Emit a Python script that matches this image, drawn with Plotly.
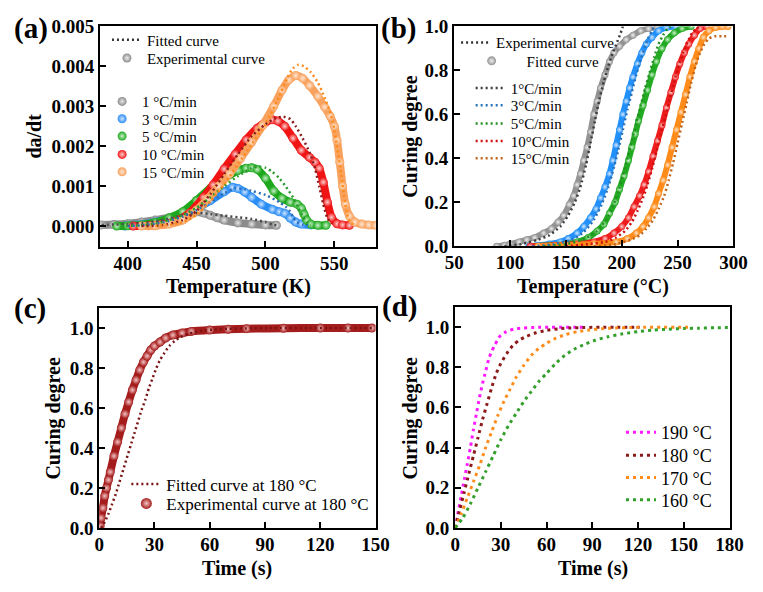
import plotly.graph_objects as go

W, H = 763, 592
FONT = "Liberation Serif"

# ---------------- Panel (a): da/dt vs Temperature (K) ----------------
a_rates = ["1 °C/min", "3 °C/min", "5 °C/min", "10 °C/min", "15 °C/min"]

a_exp_T1 = [381, 390, 400, 410, 420, 430, 440, 445, 450, 455, 460, 465, 470, 480, 490, 500, 508]
a_exp_v1 = [0.00003, 0.00004, 0.00006, 0.0001, 0.00015, 0.00021, 0.00029, 0.00033, 0.000355, 0.00033, 0.00027, 0.00021, 0.00015, 0.00008, 0.00005, 0.00003, 0.00002]
a_fit_T1 = [381, 390, 400, 410, 420, 430, 440, 450, 460, 470, 480, 490, 500, 505, 508]
a_fit_v1 = [0.00003, 0.00004, 0.00005, 0.00008, 0.00012, 0.00019, 0.00027, 0.00033, 0.0003, 0.00026, 0.00022, 0.00018, 0.0001, 0.00004, 0.00002]

a_exp_T3 = [398, 405, 410, 420, 430, 440, 450, 460, 470, 476, 480, 485, 490, 497, 505, 510, 514, 518, 522, 526, 533]
a_exp_v3 = [0.0, 0.00002, 0.00004, 0.0001, 0.00018, 0.00028, 0.00044, 0.00064, 0.00086, 0.00097, 0.00094, 0.00085, 0.00072, 0.00055, 0.00042, 0.00036, 0.00032, 0.0002, 0.0001, 0.00005, 0.00003]
a_fit_T3 = [400, 410, 420, 430, 440, 450, 460, 470, 478, 485, 490, 500, 510, 515, 518, 520, 523, 527, 531]
a_fit_v3 = [0.0, 0.00002, 0.00006, 0.00013, 0.00024, 0.0004, 0.0006, 0.00082, 0.00095, 0.00092, 0.00088, 0.00078, 0.0006, 0.00048, 0.00036, 0.00022, 0.0001, 0.00004, 0.00002]

a_exp_T5 = [392, 400, 410, 420, 430, 440, 450, 460, 470, 480, 486, 490, 494, 500, 506, 512, 518, 523, 526, 528, 530, 533, 538, 544]
a_exp_v5 = [0.0, 0.00001, 0.00003, 0.00009, 0.0002, 0.00036, 0.00064, 0.00095, 0.00119, 0.00139, 0.00145, 0.00146, 0.00142, 0.0012, 0.00088, 0.0007, 0.0006, 0.00055, 0.00045, 0.0003, 0.00015, 0.00005, 0.00002, 0.00002]
a_fit_T5 = [395, 410, 420, 430, 440, 450, 460, 470, 480, 490, 495, 500, 505, 510, 515, 520, 524, 527, 530, 533]
a_fit_v5 = [0.0, 0.00002, 0.00006, 0.00015, 0.00028, 0.00046, 0.00072, 0.001, 0.00125, 0.00145, 0.00149, 0.00146, 0.00136, 0.0012, 0.00098, 0.00072, 0.00045, 0.00025, 0.0001, 0.00003]

a_exp_T10 = [404, 415, 425, 435, 445, 455, 462, 470, 478, 486, 494, 500, 505, 509, 514, 520, 526, 532, 536, 539, 542, 545, 548, 552, 556, 561]
a_exp_v10 = [0.0, 0.00001, 0.00004, 0.00012, 0.00033, 0.00072, 0.00103, 0.00143, 0.0018, 0.00216, 0.00245, 0.0026, 0.00266, 0.00263, 0.0025, 0.0022, 0.0019, 0.00172, 0.0016, 0.00145, 0.0011, 0.0006, 0.00022, 0.00006, 0.00003, 0.00002]
a_fit_T10 = [410, 425, 440, 450, 460, 470, 480, 490, 500, 507, 513, 518, 522, 527, 532, 536, 539, 542, 545, 548]
a_fit_v10 = [0.0, 0.00002, 0.00015, 0.00038, 0.0008, 0.0013, 0.0018, 0.00225, 0.00255, 0.0027, 0.00274, 0.00268, 0.0025, 0.0022, 0.00185, 0.00145, 0.001, 0.00055, 0.0002, 0.00005]

a_exp_T15 = [410, 420, 430, 440, 450, 458, 466, 474, 482, 490, 498, 506, 512, 517, 522, 527, 532, 538, 543, 547, 550, 552, 554, 556, 558, 561, 565, 570, 575, 580]
a_exp_v15 = [0.0, 0.00001, 0.00005, 0.00015, 0.0004, 0.00068, 0.001, 0.00131, 0.0017, 0.0021, 0.00252, 0.003, 0.0034, 0.00366, 0.00377, 0.0037, 0.00352, 0.00325, 0.00298, 0.00275, 0.0025, 0.00215, 0.0016, 0.001, 0.00055, 0.00025, 0.0001, 0.00005, 0.00003, 0.00002]
a_fit_T15 = [420, 430, 440, 450, 460, 470, 480, 490, 500, 510, 516, 520, 524, 528, 533, 538, 542, 546, 549, 552, 555, 557, 559, 561, 564]
a_fit_v15 = [0.0, 0.00003, 0.0001, 0.00028, 0.00062, 0.00105, 0.00155, 0.00205, 0.00255, 0.00325, 0.00372, 0.00395, 0.00404, 0.004, 0.00385, 0.0036, 0.0033, 0.00295, 0.0026, 0.002, 0.0013, 0.0008, 0.00035, 0.00012, 0.00003]

a_exp_T = [a_exp_T1, a_exp_T3, a_exp_T5, a_exp_T10, a_exp_T15]
a_exp_v = [a_exp_v1, a_exp_v3, a_exp_v5, a_exp_v10, a_exp_v15]
a_fit_T = [a_fit_T1, a_fit_T3, a_fit_T5, a_fit_T10, a_fit_T15]
a_fit_v = [a_fit_v1, a_fit_v3, a_fit_v5, a_fit_v10, a_fit_v15]
a_exp_colors = ["#8c8c8c", "#2a8cf5", "#1ea81e", "#f01414", "#f8a25e"]
a_exp_light = ["#e6e6e6", "#cfe6ff", "#c8f0c8", "#ffd0d0", "#ffe6d2"]
a_fit_colors = ["#4a4a4a", "#2a6fb8", "#2c9a2c", "#8e1b1b", "#ff8a1a"]

# ---------------- Panel (b): curing degree vs Temperature (°C) ----------------
b_rates = ["1°C/min", "3°C/min", "5°C/min", "10°C/min", "15°C/min"]

b_exp_T1 = [88, 95, 100, 108, 115, 122, 130, 137, 143, 148, 153, 157, 160, 163, 166, 169, 172, 175, 178, 181, 185, 189, 193, 198, 204, 210, 217, 224, 232, 238]
b_exp_v1 = [0.0, 0.005, 0.01, 0.02, 0.03, 0.04, 0.06, 0.08, 0.11, 0.14, 0.19, 0.23, 0.28, 0.33, 0.39, 0.45, 0.52, 0.6, 0.66, 0.72, 0.78, 0.84, 0.88, 0.91, 0.94, 0.96, 0.98, 0.99, 0.997, 1.0]
b_fit_T1 = [95, 110, 125, 135, 145, 152, 158, 163, 168, 172, 176, 180, 184, 188, 192, 196, 199, 201]
b_fit_v1 = [0.0, 0.01, 0.03, 0.05, 0.09, 0.14, 0.2, 0.27, 0.37, 0.47, 0.57, 0.67, 0.75, 0.82, 0.88, 0.93, 0.97, 1.0]

b_exp_T3 = [117, 125, 135, 145, 152, 160, 166, 172, 177, 181, 185, 189, 192, 195, 198, 201, 204, 207, 210, 214, 218, 222, 227, 233, 240, 248]
b_exp_v3 = [0.0, 0.005, 0.01, 0.02, 0.035, 0.06, 0.09, 0.13, 0.17, 0.22, 0.27, 0.33, 0.39, 0.46, 0.53, 0.6, 0.66, 0.72, 0.77, 0.83, 0.88, 0.92, 0.95, 0.98, 0.995, 1.0]
b_fit_T3 = [120, 140, 155, 165, 175, 182, 188, 193, 197, 201, 205, 209, 213, 217, 221, 224, 227, 229]
b_fit_v3 = [0.0, 0.01, 0.03, 0.06, 0.12, 0.19, 0.27, 0.36, 0.44, 0.53, 0.62, 0.7, 0.78, 0.85, 0.91, 0.95, 0.98, 1.0]

b_exp_T5 = [122, 135, 150, 160, 170, 178, 184, 189, 194, 198, 202, 206, 209, 212, 215, 219, 223, 227, 231, 236, 241, 247, 254, 262]
b_exp_v5 = [0.0, 0.005, 0.01, 0.02, 0.04, 0.07, 0.1, 0.15, 0.2, 0.26, 0.32, 0.39, 0.45, 0.51, 0.57, 0.64, 0.71, 0.78, 0.84, 0.9, 0.94, 0.97, 0.99, 1.0]
b_fit_T5 = [130, 150, 165, 178, 186, 192, 197, 201, 205, 209, 213, 217, 221, 225, 229, 233, 237, 241, 244]
b_fit_v5 = [0.0, 0.01, 0.03, 0.07, 0.12, 0.18, 0.25, 0.32, 0.4, 0.48, 0.56, 0.64, 0.72, 0.79, 0.86, 0.92, 0.96, 0.99, 1.0]

b_exp_T10 = [118, 140, 160, 175, 185, 193, 200, 206, 211, 216, 220, 224, 228, 232, 236, 240, 244, 248, 252, 256, 260, 265, 270, 276]
b_exp_v10 = [0.0, 0.005, 0.01, 0.02, 0.035, 0.06, 0.09, 0.13, 0.18, 0.23, 0.28, 0.34, 0.41, 0.48, 0.55, 0.63, 0.7, 0.77, 0.83, 0.88, 0.92, 0.96, 0.99, 1.0]
b_fit_T10 = [150, 170, 185, 195, 203, 209, 214, 219, 223, 227, 231, 235, 239, 243, 247, 251, 255, 259, 263, 267, 270]
b_fit_v10 = [0.0, 0.01, 0.02, 0.04, 0.07, 0.11, 0.16, 0.22, 0.28, 0.35, 0.43, 0.51, 0.59, 0.67, 0.75, 0.82, 0.88, 0.93, 0.97, 0.99, 1.0]

b_exp_T15 = [125, 150, 175, 195, 205, 213, 219, 224, 229, 233, 237, 241, 245, 249, 253, 257, 261, 265, 269, 273, 278, 284, 290, 295]
b_exp_v15 = [0.0, 0.005, 0.01, 0.02, 0.035, 0.06, 0.09, 0.13, 0.18, 0.24, 0.3, 0.37, 0.45, 0.53, 0.61, 0.69, 0.77, 0.84, 0.9, 0.95, 0.98, 0.995, 1.0, 1.0]
b_fit_T15 = [175, 195, 208, 216, 222, 228, 233, 238, 242, 246, 250, 254, 258, 262, 266, 270, 274, 278, 283, 290, 296]
b_fit_v15 = [0.0, 0.01, 0.03, 0.05, 0.08, 0.12, 0.17, 0.23, 0.3, 0.38, 0.47, 0.56, 0.65, 0.74, 0.82, 0.88, 0.92, 0.945, 0.955, 0.955, 0.955]

b_exp_T = [b_exp_T1, b_exp_T3, b_exp_T5, b_exp_T10, b_exp_T15]
b_exp_v = [b_exp_v1, b_exp_v3, b_exp_v5, b_exp_v10, b_exp_v15]
b_fit_T = [b_fit_T1, b_fit_T3, b_fit_T5, b_fit_T10, b_fit_T15]
b_fit_v = [b_fit_v1, b_fit_v3, b_fit_v5, b_fit_v10, b_fit_v15]
b_exp_colors = ["#939393", "#2290fa", "#22aa22", "#ee1c1c", "#ff8c1a"]
b_exp_light = ["#eeeeee", "#d2e8ff", "#cdf2cd", "#ffd2d2", "#ffe2c6"]
b_fit_colors = ["#3c3c3c", "#2a72b8", "#239023", "#cc1010", "#c0641a"]

# ---------------- Panel (c): isothermal 180 °C ----------------
c_exp_t = [0.5, 1, 2, 3, 4, 5, 6, 8, 10, 12, 14, 16, 18, 20, 22, 24, 26, 28, 30, 33, 36, 40, 45, 50, 60, 70, 80, 100, 120, 135, 148]
c_exp_v = [0.01, 0.05, 0.1, 0.16, 0.2, 0.24, 0.28, 0.36, 0.43, 0.5, 0.57, 0.63, 0.69, 0.74, 0.79, 0.83, 0.86, 0.89, 0.91, 0.93, 0.95, 0.965, 0.975, 0.983, 0.99, 0.994, 0.997, 0.999, 1.0, 1.0, 1.0]
c_fit_t = [1, 3, 5, 7, 9, 11, 13, 15, 17, 19, 21, 23, 25, 27, 29, 31, 33, 35, 38, 41, 44, 48, 52, 57, 63, 70, 80, 95, 110, 130, 148]
c_fit_v = [0.0, 0.03, 0.07, 0.12, 0.17, 0.23, 0.29, 0.35, 0.41, 0.47, 0.53, 0.59, 0.64, 0.7, 0.75, 0.8, 0.84, 0.87, 0.91, 0.935, 0.955, 0.97, 0.98, 0.988, 0.993, 0.996, 0.998, 1.0, 1.0, 1.0, 1.0]

# ---------------- Panel (d): predicted isothermal curves ----------------
d_labels = ["190 °C", "180 °C", "170 °C", "160 °C"]
d_t190 = [0, 2, 4, 6, 8, 10, 12, 14, 16, 18, 20, 22, 24, 26, 28, 30, 33, 36, 40, 45, 50, 56, 63, 70, 78, 85]
d_v190 = [0, 0.08, 0.16, 0.24, 0.32, 0.4, 0.49, 0.57, 0.65, 0.72, 0.78, 0.84, 0.88, 0.91, 0.94, 0.96, 0.975, 0.985, 0.992, 0.996, 0.998, 1.0, 1.0, 1.0, 1.0, 1.0]
d_t180 = [0, 3, 6, 9, 12, 15, 18, 21, 24, 27, 30, 34, 38, 42, 47, 53, 60, 68, 76, 85, 95, 105, 115, 121]
d_v180 = [0, 0.09, 0.18, 0.27, 0.36, 0.45, 0.54, 0.62, 0.7, 0.77, 0.82, 0.87, 0.91, 0.935, 0.955, 0.972, 0.984, 0.992, 0.996, 0.998, 1.0, 1.0, 1.0, 1.0]
d_t170 = [0, 4, 8, 12, 16, 20, 24, 28, 32, 36, 40, 45, 50, 55, 60, 66, 72, 80, 88, 96, 105, 115, 125, 135, 145, 154]
d_v170 = [0, 0.07, 0.15, 0.23, 0.31, 0.4, 0.48, 0.56, 0.63, 0.69, 0.75, 0.81, 0.86, 0.895, 0.92, 0.945, 0.962, 0.977, 0.986, 0.992, 0.996, 0.998, 1.0, 1.0, 1.0, 1.0]
d_t160 = [0, 5, 10, 15, 20, 25, 30, 35, 40, 45, 50, 55, 60, 66, 72, 78, 85, 92, 100, 110, 120, 130, 140, 150, 160, 170, 180]
d_v160 = [0, 0.05, 0.12, 0.2, 0.28, 0.36, 0.44, 0.51, 0.57, 0.63, 0.68, 0.73, 0.77, 0.82, 0.86, 0.89, 0.915, 0.935, 0.952, 0.967, 0.978, 0.985, 0.99, 0.993, 0.995, 0.997, 0.998]
d_t = [d_t190, d_t180, d_t170, d_t160]
d_v = [d_v190, d_v180, d_v170, d_v160]
d_colors = ["#ff1aff", "#8b1a1a", "#ff8c1a", "#33a02c"]

# ---------------- figure ----------------
fig = go.Figure()
legends = {}
_count = [0]

DOT = "2px,3px"


def add_legend(name, xa, ya, sym_left, y_mid, fsize, **style):
    _count[0] += 1
    key = "legend" if _count[0] == 1 else "legend%d" % _count[0]
    fig.add_trace(go.Scatter(x=[None], y=[None], name=name, legend=key, showlegend=True,
                             xaxis=xa, yaxis=ya, hoverinfo="skip", **style))
    legends[key] = dict(x=(sym_left - 5) / W, y=1 - y_mid / H, xanchor="left", yanchor="middle",
                        bgcolor="rgba(0,0,0,0)", borderwidth=0,
                        font=dict(family=FONT, size=fsize, color="black"))


def exp_style(color, light, size, lw):
    return dict(mode="lines+markers", line=dict(color=color, width=lw, shape="spline", smoothing=0.6),
                marker=dict(size=size, color=color, line=dict(width=0),
                            gradient=dict(type="radial", color=light)))


def fit_style(color, width=2.5, dash=DOT):
    return dict(mode="lines", line=dict(color=color, width=width, dash=dash, shape="spline", smoothing=0.6))


# (a)
for i in range(5):
    fig.add_trace(go.Scatter(x=a_exp_T[i], y=a_exp_v[i], xaxis="x", yaxis="y", showlegend=False,
                             hoverinfo="skip", **exp_style(a_exp_colors[i], a_exp_light[i], 9, 8)))
for i in range(5):
    fig.add_trace(go.Scatter(x=a_fit_T[i], y=a_fit_v[i], xaxis="x", yaxis="y", showlegend=False,
                             hoverinfo="skip", **fit_style(a_fit_colors[i])))
add_legend("Fitted curve", "x", "y", 106, 31, 15, mode="lines", line=dict(color="#333333", width=2.5, dash=DOT))
add_legend("Experimental curve", "x", "y", 106, 50, 15, mode="markers",
           marker=dict(size=9, color="#8c8c8c", gradient=dict(type="radial", color="#eeeeee")))
for i, yy in enumerate([95, 113, 131, 150, 168]):
    add_legend(a_rates[i], "x", "y", 101, yy, 15, mode="markers",
               marker=dict(size=9, color=a_exp_colors[i], gradient=dict(type="radial", color=a_exp_light[i])))

# (b)
for i in range(5):
    fig.add_trace(go.Scatter(x=b_exp_T[i], y=b_exp_v[i], xaxis="x2", yaxis="y2", showlegend=False,
                             hoverinfo="skip", **exp_style(b_exp_colors[i], b_exp_light[i], 7, 6)))
for i in range(5):
    fig.add_trace(go.Scatter(x=b_fit_T[i], y=b_fit_v[i], xaxis="x2", yaxis="y2", showlegend=False,
                             hoverinfo="skip", **fit_style(b_fit_colors[i])))
add_legend("Experimental curve", "x2", "y2", 466, 34, 15, mode="lines",
           line=dict(color="#333333", width=2.5, dash=DOT))
add_legend("\u00a0\u00a0\u00a0\u00a0Fitted curve", "x2", "y2", 482, 53, 15, mode="markers",
           marker=dict(size=9, color="#939393", gradient=dict(type="radial", color="#eeeeee")))
for i, yy in enumerate([81, 99, 118, 136, 154]):
    add_legend(b_rates[i], "x2", "y2", 481, yy, 15, mode="lines",
               line=dict(color=b_fit_colors[i], width=2.5, dash=DOT))

# (c)
fig.add_trace(go.Scatter(x=c_exp_t, y=c_exp_v, xaxis="x3", yaxis="y3", showlegend=False,
                         hoverinfo="skip", **exp_style("#a51c1c", "#f4c4c4", 9, 8)))
fig.add_trace(go.Scatter(x=c_fit_t, y=c_fit_v, xaxis="x3", yaxis="y3", showlegend=False,
                         hoverinfo="skip", **fit_style("#7a1414")))
add_legend("Fitted curve at 180 °C", "x3", "y3", 126, 492, 17, mode="lines",
           line=dict(color="#7a1414", width=2.5, dash=DOT))
add_legend("Experimental curve at 180 °C", "x3", "y3", 126, 512, 17, mode="markers",
           marker=dict(size=11, color="#a51c1c", gradient=dict(type="radial", color="#f4c4c4")))

# (d)
for i in range(4):
    fig.add_trace(go.Scatter(x=d_t[i], y=d_v[i], xaxis="x4", yaxis="y4", showlegend=False,
                             hoverinfo="skip", **fit_style(d_colors[i], 3, "3px,4px")))
for i, yy in enumerate([438, 462, 485, 508]):
    add_legend(d_labels[i], "x4", "y4", 636, yy, 18, mode="lines",
               line=dict(color=d_colors[i], width=3, dash="3px,4px"))

# ---------------- axes ----------------
TICKFONT = dict(family=FONT, size=19, color="black", weight="bold")


def axis(domain, rng, **kw):
    d = dict(domain=domain, range=rng, showline=True, linecolor="black", linewidth=2, mirror=True,
             ticks="inside", ticklen=6, tickwidth=2, tickcolor="black", showgrid=False, zeroline=False,
             tickfont=TICKFONT, fixedrange=True)
    d.update(kw)
    return d


def xd(l, r):
    return [l / W, r / W]


def yd(b, t):
    return [1 - b / H, 1 - t / H]


a_yticks = [0.0, 0.001, 0.002, 0.003, 0.004, 0.005]
one_ticks = [0.0, 0.2, 0.4, 0.6, 0.8, 1.0]

layout = dict(
    width=W, height=H, autosize=False,
    margin=dict(l=0, r=0, t=0, b=0),
    paper_bgcolor="white", plot_bgcolor="white",
    showlegend=True,
    font=dict(family=FONT, color="black"),
    xaxis=axis(xd(94, 378), [380, 580], anchor="y", tickvals=[400, 450, 500, 550], ticklabelstandoff=-2),
    yaxis=axis(yd(246, 17), [-0.00053, 0.005], anchor="x", tickvals=a_yticks, tickformat=".3f"),
    xaxis2=axis(xd(459, 747), [50, 300], anchor="y2", tickvals=[50, 100, 150, 200, 250, 300], ticklabelstandoff=-2),
    yaxis2=axis(yd(245, 17), [0, 1.0], anchor="x2", tickvals=one_ticks, tickformat=".1f"),
    xaxis3=axis(xd(93, 378), [0, 150], anchor="y3", tickvals=[0, 30, 60, 90, 120, 150], ticklabelstandoff=-2),
    yaxis3=axis(yd(537, 309), [0, 1.1], anchor="x3", tickvals=one_ticks, tickformat=".1f"),
    xaxis4=axis(xd(460, 743), [0, 180], anchor="y4", tickvals=[0, 30, 60, 90, 120, 150, 180], ticklabelstandoff=-2),
    yaxis4=axis(yd(537, 308), [0, 1.1], anchor="x4", tickvals=one_ticks, tickformat=".1f"),
)
layout.update(legends)

TITLEFONT = dict(family=FONT, size=20, color="black", weight="bold")
PANELFONT = dict(family=FONT, size=29, color="black", weight="bold")


def ann(text, x, y, font, angle=0, xanchor="center"):
    return dict(text=text, x=x / W, y=1 - y / H, xref="paper", yref="paper", showarrow=False,
                textangle=angle, font=font, xanchor=xanchor, yanchor="middle")


annotations = [
    ann("da/dt", 26, 131, TITLEFONT, -90),
    ann("Temperature (K)", 237, 287, TITLEFONT),
    ann("Curing degree", 414, 131, TITLEFONT, -90),
    ann("Temperature (°C)", 602, 287, TITLEFONT),
    ann("Curing degree", 46, 423, TITLEFONT, -90),
    ann("Time (s)", 235, 579, TITLEFONT),
    ann("Curing degree", 414, 423, TITLEFONT, -90),
    ann("Time (s)", 602, 579, TITLEFONT),
    ann("(a)", 3, 19, PANELFONT, xanchor="left"),
    ann("(b)", 382, 19, PANELFONT, xanchor="left"),
    ann("(c)", 3, 309, PANELFONT, xanchor="left"),
    ann("(d)", 383, 307, PANELFONT, xanchor="left"),
]
layout["annotations"] = annotations

fig.update_layout(**layout)
fig.write_html("out.html", config={"displayModeBar": False, "staticPlot": True})
